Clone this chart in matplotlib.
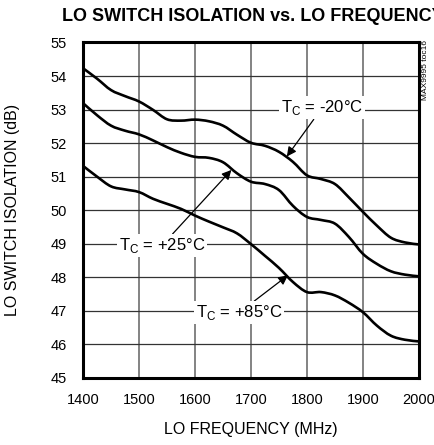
import matplotlib
matplotlib.use("Agg")
import matplotlib.pyplot as plt
from matplotlib.path import Path
from matplotlib.patches import PathPatch

plt.rcParams["font.family"] = ["Liberation Sans", "DejaVu Sans"]
plt.rcParams["mathtext.fontset"] = "custom"
plt.rcParams["mathtext.rm"] = "Liberation Sans"

freq = [1400, 1425, 1450, 1475, 1500, 1525, 1550, 1575, 1600, 1625, 1650, 1675, 1700,
        1725, 1750, 1775, 1800, 1825, 1850, 1875, 1900, 1925, 1950, 1975, 2000]
iso_m20 = [54.23, 53.92, 53.58, 53.40, 53.24, 52.99, 52.71, 52.67, 52.70, 52.65, 52.52, 52.25, 52.01,
           51.92, 51.74, 51.44, 51.04, 50.93, 50.78, 50.38, 49.95, 49.54, 49.18, 49.04, 48.98]
iso_p25 = [53.19, 52.83, 52.52, 52.37, 52.26, 52.08, 51.88, 51.71, 51.59, 51.56, 51.43, 51.10, 50.85,
           50.78, 50.60, 50.13, 49.80, 49.71, 49.60, 49.20, 48.70, 48.40, 48.18, 48.08, 48.03]
iso_p85 = [51.32, 51.00, 50.71, 50.62, 50.54, 50.34, 50.19, 50.04, 49.84, 49.66, 49.49, 49.31, 48.99,
           48.64, 48.28, 47.86, 47.56, 47.56, 47.46, 47.24, 46.96, 46.56, 46.26, 46.14, 46.09]


def smooth_path(x, y):
    # catmull-rom through the measured points, drawn as cubic bezier segments
    verts = [(x[0], y[0])]
    codes = [Path.MOVETO]
    n = len(x)
    for i in range(n - 1):
        x0, y0 = (x[i - 1], y[i - 1]) if i > 0 else (x[i], y[i])
        x3, y3 = (x[i + 2], y[i + 2]) if i + 2 < n else (x[i + 1], y[i + 1])
        c1 = (x[i] + (x[i + 1] - x0) / 6, y[i] + (y[i + 1] - y0) / 6)
        c2 = (x[i + 1] - (x3 - x[i]) / 6, y[i + 1] - (y3 - y[i]) / 6)
        verts += [c1, c2, (x[i + 1], y[i + 1])]
        codes += [Path.CURVE4] * 3
    return Path(verts, codes)


fig = plt.figure(figsize=(4.35, 4.45), dpi=100)
ax = fig.add_axes([0.191, 0.1506, 0.772, 0.754])

for y in (iso_m20, iso_p25, iso_p85):
    ax.add_patch(PathPatch(smooth_path(freq, y), fill=False, edgecolor="black",
                           lw=1.9, zorder=3))

ax.set_xlim(1400, 2000)
ax.set_ylim(45, 55)
ax.set_xticks(range(1400, 2001, 100))
ax.set_yticks(range(45, 56))
ax.xaxis.grid(True, color="#7a7a7a", lw=1.3, zorder=1)
ax.yaxis.grid(True, color="#333333", lw=0.9, zorder=1)
ax.tick_params(length=0, labelsize=10.5)
ax.tick_params(axis="x", pad=11)
ax.tick_params(axis="y", pad=12)
for s in ax.spines.values():
    s.set_linewidth(2.2)
    s.set_zorder(4)

ax.set_xlabel("LO FREQUENCY (MHz)", fontsize=11.5, va="center")
ax.xaxis.set_label_coords(0.5, -0.155)
ax.set_ylabel("LO SWITCH ISOLATION (dB)", fontsize=11.5, va="center")
ax.yaxis.set_label_coords(-0.211, 0.5)

box = dict(facecolor="white", edgecolor="none", pad=1.5)
arrow = dict(arrowstyle="-|>", color="black", lw=0.9, mutation_scale=14, shrinkA=0, shrinkB=0)
ax.annotate(r"T$_\mathregular{C}$ = -20°C", xy=(1764, 51.6), xytext=(1827, 53.05),
            ha="center", va="center", fontsize=12, bbox=box, arrowprops=arrow, zorder=5)
ax.annotate(r"T$_\mathregular{C}$ = +25°C", xy=(1665, 51.2), xytext=(1541, 48.95),
            ha="center", va="center", fontsize=12, bbox=box, arrowprops=arrow, zorder=5)
ax.annotate(r"T$_\mathregular{C}$ = +85°C", xy=(1766, 48.06), xytext=(1679, 46.95),
            ha="center", va="center", fontsize=12, bbox=box, arrowprops=arrow, zorder=5)

fig.text(0.1425, 0.962, "LO SWITCH ISOLATION vs. LO FREQUENCY", fontsize=13,
         fontweight="bold", ha="left", va="center")
fig.text(0.979, 0.843, "MAX9995 toc16", fontsize=6, rotation=90, ha="center", va="center")

fig.savefig("out.png", dpi=100)
